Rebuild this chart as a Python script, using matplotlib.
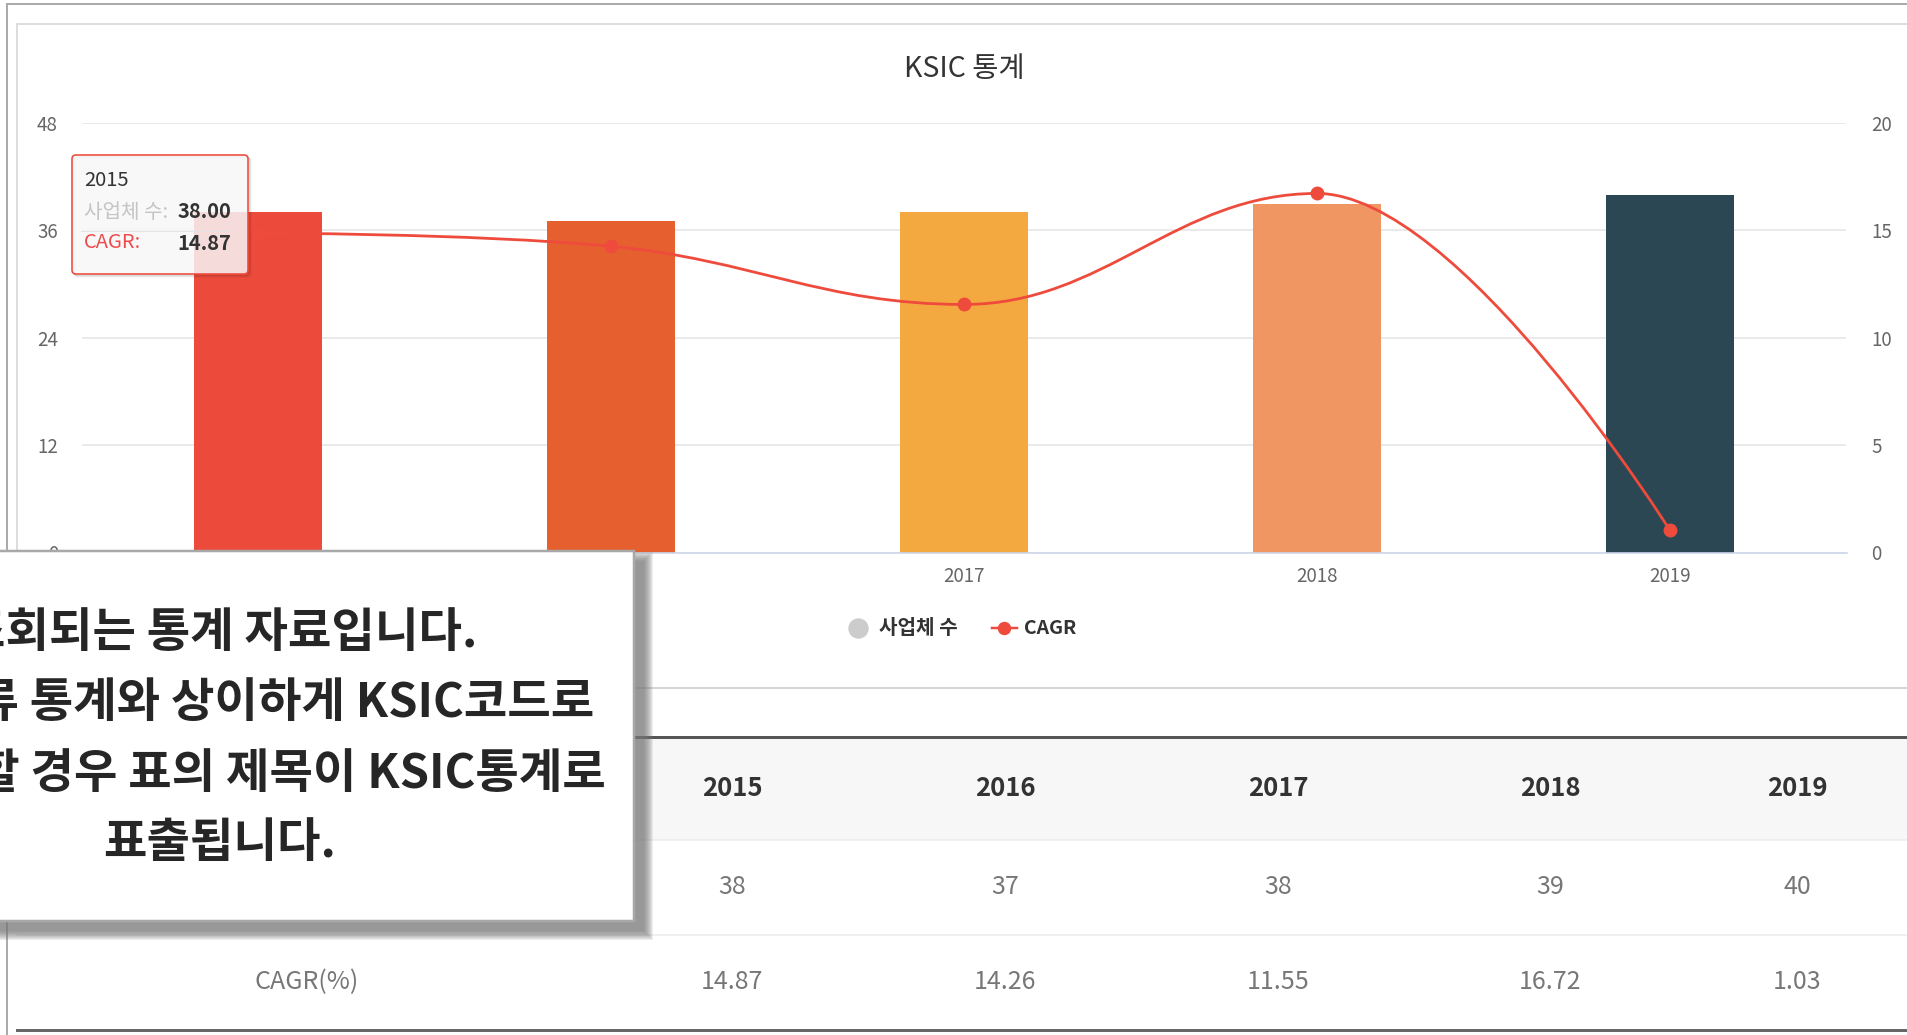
import matplotlib
matplotlib.use("Agg")
import matplotlib.pyplot as plt
from matplotlib import transforms as mtransforms
from matplotlib.patches import Rectangle, FancyBboxPatch, PathPatch
from matplotlib.path import Path
from matplotlib.lines import Line2D

plt.rcParams['font.family'] = ['Noto Sans CJK KR', 'DejaVu Sans']

# chart data
years = ['2015', '2016', '2017', '2018', '2019']
companies = [38, 37, 38, 39, 40]
cagr = [14.87, 14.26, 11.55, 16.72, 1.03]
bar_colors = ['#EC4A3B', '#E5602E', '#F4A940', '#F09663', '#2B4753']
line_color = '#EE4B3D'
left_ticks = [0, 12, 24, 36, 48]
right_ticks = [0, 5, 10, 15, 20]
title = 'KSIC 통계'
bar_name = '사업체 수'
line_name = 'CAGR'
table_row_label = 'CAGR(%)'
notice_lines = ['조회되는 통계 자료입니다.',
                '산업분류 통계와 상이하게 KSIC코드로',
                '조회를 할 경우 표의 제목이 KSIC통계로',
                '표출됩니다.']

W, H = 1908, 1035
fig = plt.figure(figsize=(W / 100, H / 100), dpi=100)
# pixel coords, origin top-left
px = mtransforms.Affine2D().scale(1 / W, -1 / H).translate(0, 1) + fig.transFigure
PT = 0.72  # points per pixel


def rect_px(x0, y0, x1, y1):
    return [x0 / W, 1 - y1 / H, (x1 - x0) / W, (y1 - y0) / H]


def hline(y, x0, x1, color, lw, z=1):
    fig.add_artist(Line2D([x0, x1], [y, y], transform=px, color=color, lw=lw * PT, zorder=z))


def vline(x, y0, y1, color, lw, z=1):
    fig.add_artist(Line2D([x, x], [y0, y1], transform=px, color=color, lw=lw * PT, zorder=z))


# highcharts style spline (smoothing 1.5)
def spline_path(xs, ys, smoothing=1.5):
    n = len(xs)
    denom = smoothing + 1
    left = [None] * n
    right = [None] * n
    for i in range(1, n - 1):
        px_, py_ = xs[i], ys[i]
        lx, ly = xs[i - 1], ys[i - 1]
        nx, ny = xs[i + 1], ys[i + 1]
        lcx = (smoothing * px_ + lx) / denom
        lcy = (smoothing * py_ + ly) / denom
        rcx = (smoothing * px_ + nx) / denom
        rcy = (smoothing * py_ + ny) / denom
        corr = 0
        if rcx != lcx:
            corr = (rcy - lcy) * (rcx - px_) / (rcx - lcx) + py_ - rcy
        lcy += corr
        rcy += corr
        if lcy > ly and lcy > py_:
            lcy = max(ly, py_)
            rcy = 2 * py_ - lcy
        elif lcy < ly and lcy < py_:
            lcy = min(ly, py_)
            rcy = 2 * py_ - lcy
        if rcy > ny and rcy > py_:
            rcy = max(ny, py_)
            lcy = 2 * py_ - rcy
        elif rcy < ny and rcy < py_:
            rcy = min(ny, py_)
            lcy = 2 * py_ - rcy
        left[i] = (lcx, lcy)
        right[i] = (rcx, rcy)
    verts = [(xs[0], ys[0])]
    codes = [Path.MOVETO]
    for i in range(1, n):
        c1 = right[i - 1] if right[i - 1] else (xs[i - 1], ys[i - 1])
        c2 = left[i] if left[i] else (xs[i], ys[i])
        verts += [c1, c2, (xs[i], ys[i])]
        codes += [Path.CURVE4] * 3
    return Path(verts, codes)


# frames
hline(4, 7, W, '#ABABAB', 2)
vline(7, 4, H, '#ABABAB', 2)
hline(24, 17, W, '#DDDDDD', 2)
vline(17, 24, 688, '#DDDDDD', 2)
hline(688, 17, W, '#D5D5D5', 2)

# chart
ax = fig.add_axes(rect_px(81.5, 123, 1846.5, 552.5))
x = list(range(len(years)))
ax.bar(x, companies, width=0.36, color=bar_colors, zorder=2)
ax.set_xlim(-0.5, len(years) - 0.5)
ax.set_ylim(0, 48)
ax.set_yticks(left_ticks)
ax.set_xticks(x)
ax.set_xticklabels(years)
ax.grid(axis='y', color='#E6E6E6', lw=1.2, zorder=0)
ax.set_axisbelow(True)
for s in ['top', 'left', 'right']:
    ax.spines[s].set_visible(False)
ax.spines['bottom'].set_color('#CCD6EB')
ax.spines['bottom'].set_linewidth(1.2)
ax.tick_params(axis='y', length=0, pad=17, labelsize=13.5, labelcolor='#666666')
ax.tick_params(axis='x', length=0, pad=10, labelsize=13.5, labelcolor='#666666')

ax2 = ax.twinx()
ax2.set_ylim(0, 20)
ax2.set_yticks(right_ticks)
for s in ax2.spines.values():
    s.set_visible(False)
ax2.tick_params(axis='y', length=0, pad=18, labelsize=13.5, labelcolor='#666666')
ax2.add_patch(PathPatch(spline_path(x, cagr), fill=False, ec=line_color, lw=2.0, zorder=3))
ax2.plot(x, cagr, 'o', color=line_color, ms=9, zorder=4)

fig.text(964, 69, title, transform=px, ha='center', va='center', fontsize=20.5, color='#333333')

# legend
fig.add_artist(Line2D([858], [628], transform=px, marker='o', ms=19 * PT, color='#CCCCCC', lw=0))
fig.text(879, 628, bar_name, transform=px, ha='left', va='center', fontsize=14.5,
         fontweight='bold', color='#333333')
fig.add_artist(Line2D([992, 1017], [628, 628], transform=px, color=line_color, lw=2.5 * PT))
fig.add_artist(Line2D([1004.5], [628], transform=px, marker='o', ms=12 * PT, color=line_color, lw=0))
fig.text(1024, 628, line_name, transform=px, ha='left', va='center', fontsize=14,
         fontweight='bold', color='#333333')

# tooltip
for k, a in [(1, 0.12), (2, 0.08), (3, 0.05)]:
    fig.add_artist(FancyBboxPatch((72 + k, 155 + k), 176, 119, boxstyle='round,pad=0,rounding_size=4',
                                  transform=px, fc='none', ec=(0, 0, 0, a), lw=1.5 * PT, zorder=5))
fig.add_artist(FancyBboxPatch((72, 155), 176, 119, boxstyle='round,pad=0,rounding_size=4',
                              transform=px, fc=(0.97, 0.97, 0.97, 0.85), ec=line_color,
                              lw=1.6 * PT, zorder=6))
fig.text(84, 180, years[0], transform=px, ha='left', va='center', fontsize=14.5, color='#333333', zorder=7)
fig.text(84, 212, bar_name + ':', transform=px, ha='left', va='center', fontsize=14.5,
         color='#C4C4C4', zorder=7)
fig.text(231, 212, f'{companies[0]:.2f}', transform=px, ha='right', va='center', fontsize=14.5,
         fontweight='bold', color='#333333', zorder=7)
hline(231, 81, 229, '#E4E4E4', 1, z=7)
fig.text(84, 243, line_name + ':', transform=px, ha='left', va='center', fontsize=14.5,
         color='#EE4B4B', zorder=7)
fig.text(231, 243, f'{cagr[0]:.2f}', transform=px, ha='right', va='center', fontsize=14.5,
         fontweight='bold', color='#333333', zorder=7)

# table
col_x = [732, 1005, 1278, 1550, 1797]
label_x = 307
fig.add_artist(Rectangle((17, 738), W - 17, 102, transform=px, fc='#F7F7F7', ec='none', zorder=1))
hline(737, 17, W, '#555555', 3, z=2)
hline(840, 17, W, '#ECECEC', 1.5, z=2)
hline(935, 17, W, '#ECECEC', 1.5, z=2)
hline(1030, 17, W, '#666666', 3, z=2)
for cx, yr, c, g in zip(col_x, years, companies, cagr):
    fig.text(cx, 788, yr, transform=px, ha='center', va='center', fontsize=18.5,
             fontweight='bold', color='#333333')
    fig.text(cx, 887, str(c), transform=px, ha='center', va='center', fontsize=18, color='#777777')
    fig.text(cx, 982, f'{g:.2f}', transform=px, ha='center', va='center', fontsize=18, color='#777777')
fig.text(label_x, 982, table_row_label, transform=px, ha='center', va='center', fontsize=18,
         color='#777777')

# notice popup with shadow
bx0, by0, bx1, by1 = -300, 551, 634, 921
for g in range(9, -1, -1):
    fig.add_artist(Rectangle((bx0 + 10 - g, by0 + 10 - g), bx1 - bx0 + 2 * g, by1 - by0 + 2 * g,
                             transform=px, fc='#7A7A7A', ec='none', alpha=0.13, zorder=10))
fig.add_artist(Rectangle((bx0, by0), bx1 - bx0, by1 - by0, transform=px, fc='white',
                         ec='#A8A8A8', lw=2.5 * PT, zorder=11))
for ly, line in zip([633, 703, 774, 843], notice_lines):
    fig.text(220, ly, line, transform=px, ha='center', va='center', fontsize=34,
             fontweight='bold', color='#262626', zorder=12)

fig.savefig('out.png', dpi=100, facecolor='white')
